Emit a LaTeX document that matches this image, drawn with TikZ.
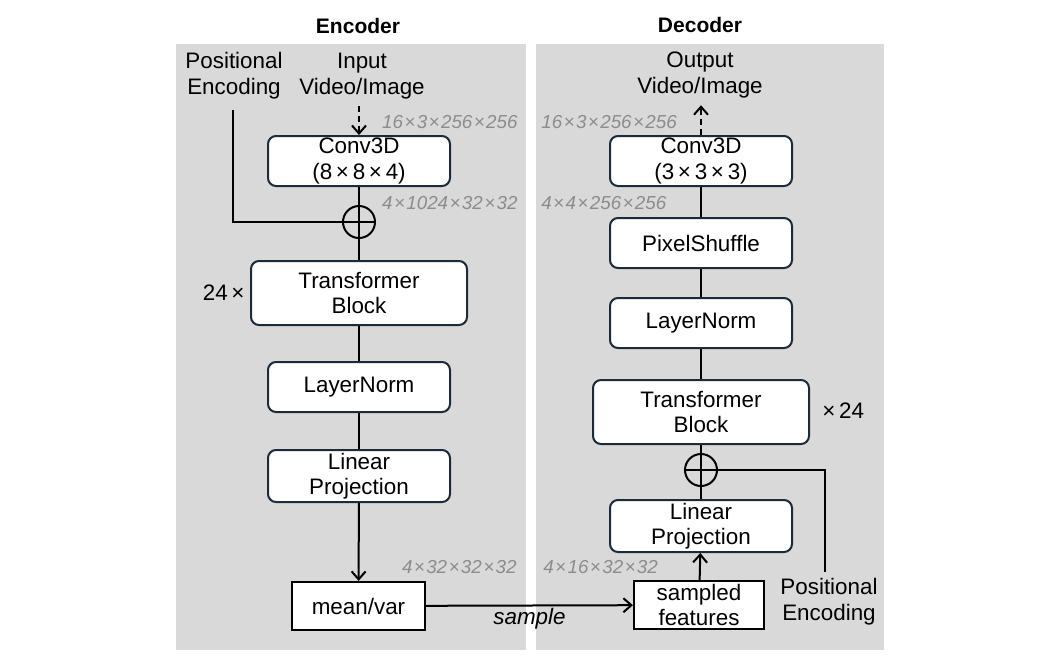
\documentclass[tikz,border=0pt]{standalone}
\usepackage{fontspec}
\setmainfont{Liberation Sans}
\usetikzlibrary{arrows.meta}
\definecolor{panelgray}{HTML}{D9D9D9}
\definecolor{boxline}{HTML}{1C2B3A}
\definecolor{dimgray}{HTML}{8C8C8C}
\newcommand{\tms}{\kern0.7pt×\kern0.7pt}
\begin{document}
\begin{tikzpicture}[x=0.5pt,y=-0.5pt,
    block/.style={draw=boxline,line width=1pt,fill=white,rounded corners=4pt,
        align=center,inner sep=0pt,minimum width=91pt,minimum height=25pt,
        font=\fontsize{11.2}{12.6}\selectfont},
    wideblock/.style={block,minimum width=108pt,minimum height=32pt},
    plainbox/.style={draw=black,line width=1.1pt,fill=white,align=center,inner sep=0pt,
        minimum height=24pt,font=\fontsize{11.2}{12.6}\selectfont},
    addop/.style={circle,draw=black,line width=1pt,minimum size=16pt,inner sep=0pt},
    txt/.style={align=center,font=\fontsize{11.2}{13}\selectfont},
    dim/.style={text=dimgray,font=\fontsize{9.4}{12}\selectfont\itshape,inner sep=0pt},
    title/.style={font=\fontsize{10.5}{12}\selectfont\bfseries},
    conn/.style={draw=black,line width=1pt},
    arr/.style={conn,-{Straight Barb[length=4pt,width=7pt,line width=1pt]}},
    dasharr/.style={arr,dash pattern=on 3pt off 2pt}]
    \useasboundingbox (0,0) rectangle (1062,666);
    % panels
    \fill[panelgray] (176,44) rectangle (526,650);
    \fill[panelgray] (536,44) rectangle (884,650);
    \node[title] (enct) at (358,26) {Encoder};
    \node[title] (dect) at (700,25) {Decoder};

    % encoder
    \node[txt] (penc) at (234,76) {Positional\\Encoding};
    \node[txt] (in) at (362,76) {Input\\Video/Image};
    \node[block] (conv1) at (359,161) {Conv3D\\(8\,×\,8\,×\,4)};
    \node[addop] (add1) at (359,222) {};
    \node[wideblock] (tb1) at (359,293) {Transformer\\Block};
    \node[block] (ln1) at (359,387) {LayerNorm};
    \node[block,minimum height=26pt] (lp1) at (359,476) {Linear\\Projection};
    \node[plainbox,minimum width=66.5pt] (mv) at (358.5,606) {mean/var};
    \coordinate (pe1) at (233,110);
    \node[txt,anchor=east,inner sep=0pt] (rep1) at (245,293) {24\,×};
    \node[dim,anchor=east] (d1) at (518,122) {16\tms3\tms256\tms256};
    \node[dim,anchor=east] (d2) at (518,203) {4\tms1024\tms32\tms32};
    \node[dim,anchor=east] (d3) at (517,567) {4\tms32\tms32\tms32};

    % decoder
    \node[txt] (out) at (700,75) {Output\\Video/Image};
    \node[block] (conv2) at (701,161) {Conv3D\\(3\,×\,3\,×\,3)};
    \node[block] (ps) at (701,243) {PixelShuffle};
    \node[block] (ln2) at (701,323) {LayerNorm};
    \node[wideblock] (tb2) at (701,412) {Transformer\\Block};
    \node[addop] (add2) at (701,470) {};
    \node[block,minimum height=26pt] (lp2) at (701,526) {Linear\\Projection};
    \node[plainbox,minimum width=65pt] (sf) at (699,605) {sampled\\features};
    \node[txt] (penc2) at (829,602) {Positional\\Encoding};
    \node[txt,anchor=west,inner sep=0pt] (rep2) at (822,411) {×\,24};
    \node[dim,anchor=west] (d4) at (541,122) {16\tms3\tms256\tms256};
    \node[dim,anchor=west] (d5) at (541,203) {4\tms4\tms256\tms256};
    \node[dim,anchor=west] (d6) at (543,567) {4\tms16\tms32\tms32};

    % connectors
    \draw[dasharr] (conv1.north |- in.south) -- (conv1.north);
    \draw[conn] (pe1) |- (add1.west);
    \draw[conn] (add1.north) -- (add1.south) (add1.west) -- (add1.east);
    \path[conn] (conv1) edge (add1)
          (add1) edge (tb1)
          (tb1) edge (ln1)
          (ln1) edge (lp1);
    \draw[arr] (lp1) -- (mv);
    \draw[arr] (mv) -- node[below=0pt,inner sep=1pt,font=\fontsize{11.2}{13}\selectfont\itshape] (smp) {sample} (sf);
    \draw[arr] (sf) -- (lp2);
    \draw[conn] (add2.north) -- (add2.south) (add2.west) -- (add2.east);
    \draw[conn] (penc2.north -| 825,0) |- (add2.east);
    \path[conn] (lp2) edge (add2)
          (add2) edge (tb2)
          (tb2) edge (ln2)
          (ln2) edge (ps)
          (ps) edge (conv2);
    \draw[dasharr] (conv2.north) -- (conv2.north |- out.south);
\end{tikzpicture}
\end{document}
